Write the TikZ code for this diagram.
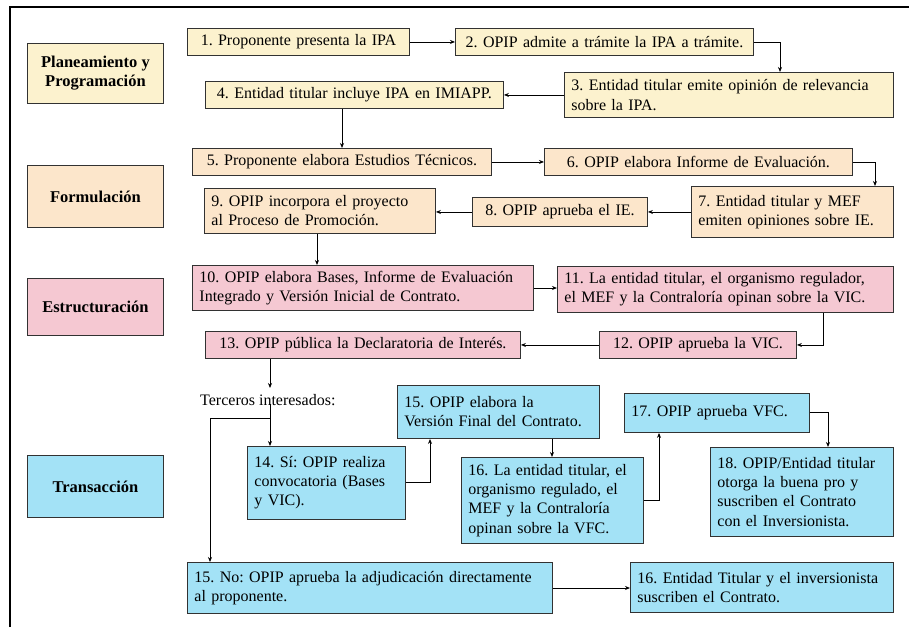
\documentclass[tikz,border=0pt]{standalone}
\usepackage{fontspec}
\setmainfont{Liberation Serif}
\usetikzlibrary{arrows.meta}
\frenchspacing
\definecolor{cyel}{RGB}{252,242,206}
\definecolor{cpea}{RGB}{252,230,203}
\definecolor{cpink}{RGB}{245,200,210}
\definecolor{cblue}{RGB}{163,226,246}
\definecolor{cedge}{RGB}{50,50,50}
\tikzset{
  bx/.style={draw=cedge, line width=0.9pt, anchor=north west, inner xsep=7pt, inner ysep=2pt,
    font=\fontsize{16}{19.2}\selectfont\frenchspacing, align=left},
  phase/.style={draw=cedge, line width=0.9pt, anchor=north west, align=center,
    font=\fontsize{16.5}{19}\selectfont\bfseries},
  conn/.style={draw=black, line width=0.8pt, -{Stealth[length=5pt,width=4pt]}},
  plain/.style={draw=black, line width=0.8pt},
}
\begin{document}
\begin{tikzpicture}[x=1pt,y=-1pt]
\useasboundingbox (0,0) rectangle (909,627);
\fill[white] (0,0) rectangle (909,627);
\draw[line width=2pt] (10,627) -- (10,7) -- (909,7);

% phase labels
\node[phase, fill=cyel, minimum width=136, minimum height=60] (pp) at (27,43) {Planeamiento y\\Programación};
\node[phase, fill=cpea, minimum width=136, minimum height=62] (pf) at (27,165) {Formulación};
\node[phase, fill=cpink, minimum width=136, minimum height=57] (pe) at (27,278) {Estructuración};
\node[phase, fill=cblue, minimum width=136, minimum height=62] (pt) at (27,455) {Transacción};

% step boxes
\node[bx, fill=cyel, minimum width=222, minimum height=27, text width=208, align=center] (n1) at (187,28) {1. Proponente presenta la IPA};
\node[bx, fill=cyel, minimum width=298, minimum height=27, text width=284, align=center] (n2) at (455,28) {2. OPIP admite a trámite la IPA a trámite.};
\node[bx, fill=cyel, minimum width=329, minimum height=45, text width=315] (n3) at (564,72) {3. Entidad titular emite opinión de relevancia\\sobre la IPA.};
\node[bx, fill=cyel, minimum width=298, minimum height=27, text width=284, align=center] (n4) at (205,81) {4. Entidad titular incluye IPA en IMIAPP.};

\node[bx, fill=cpea, minimum width=299, minimum height=27, text width=285, align=center] (n5) at (192,148) {5. Proponente elabora Estudios Técnicos.};
\node[bx, fill=cpea, minimum width=308, minimum height=27, text width=294, align=center] (n6) at (544,148) {6. OPIP elabora Informe de Evaluación.};
\node[bx, fill=cpea, minimum width=202, minimum height=51, text width=188] (n7) at (691,186) {7. Entidad titular y MEF\\emiten opiniones sobre IE.};
\node[bx, fill=cpea, minimum width=175, minimum height=29, text width=161, align=center] (n8) at (472,197) {8. OPIP aprueba el IE.};
\node[bx, fill=cpea, minimum width=231, minimum height=45, text width=217] (n9) at (204,188) {9. OPIP incorpora el proyecto\\al Proceso de Promoción.};

\node[bx, fill=cpink, minimum width=341, minimum height=45, text width=327] (n10) at (192,265) {10. OPIP elabora Bases, Informe de Evaluación\\Integrado y Versión Inicial de Contrato.};
\node[bx, fill=cpink, minimum width=336, minimum height=46, text width=322] (n11) at (557,266) {11. La entidad titular, el organismo regulador,\\el MEF y la Contraloría opinan sobre la VIC.};
\node[bx, fill=cpink, minimum width=197, minimum height=27, text width=183, align=center] (n12) at (599,331) {12. OPIP aprueba la VIC.};
\node[bx, fill=cpink, minimum width=315, minimum height=27, text width=301, align=center] (n13) at (205,331) {13. OPIP pública la Declaratoria de Interés.};

\node[font=\fontsize{16}{19}\selectfont, anchor=west, inner sep=0pt] (terc) at (200,400) {Terceros interesados:};

\node[bx, fill=cblue, minimum width=202, minimum height=53, text width=188] (n15a) at (397,385) {15. OPIP elabora la\\Versión Final del Contrato.};
\node[bx, fill=cblue, minimum width=158, minimum height=73, text width=144] (n14) at (247,446) {14. Sí: OPIP realiza\\convocatoria (Bases\\y VIC).};
\node[bx, fill=cblue, minimum width=182, minimum height=86, text width=168] (n16) at (461,457) {16. La entidad titular, el\\organismo regulado, el\\MEF y la Contraloría\\opinan sobre la VFC.};
\node[bx, fill=cblue, minimum width=185, minimum height=39, text width=171] (n17) at (624,393) {17. OPIP aprueba VFC.};
\node[bx, fill=cblue, minimum width=183, minimum height=89, text width=169] (n18) at (710,447) {18. OPIP/Entidad titular\\otorga la buena pro y\\suscriben el Contrato\\con el Inversionista.};
\node[bx, fill=cblue, minimum width=365, minimum height=51, text width=351] (n15b) at (187,562) {15. No: OPIP aprueba la adjudicación directamente\\al proponente.};
\node[bx, fill=cblue, minimum width=263, minimum height=50, text width=249] (n16b) at (630,562) {16. Entidad Titular y el inversionista\\suscriben el Contrato.};

% connectors
\draw[conn] (n1.east) -- (n2.west);
\draw[conn] (n2.east) -| (n3.north -| 780,0);
\draw[conn] (n3.west) -- (n4.east);
\draw[conn] (n4.south -| 342,0) -- (n5.north -| 342,0);
\draw[conn] (n5.east) -- (n6.west);
\draw[conn] (n6.east) -| (n7.north -| 875,0);
\draw[conn] (n7.west) -- (n8.east);
\draw[conn] (n8.west) -- (n9.east |- n8.west);
\draw[conn] (n9.south -| 317,0) -- (n10.north -| 317,0);
\draw[conn] (n10.east |- 0,288) -- (n11.west |- 0,288);
\draw[conn] (n11.south -| 823,0) |- (n12.east);
\draw[conn] (n12.west) -- (n13.east |- n12.west);
\draw[conn] (n13.south -| 270,0) -- (270,388);
\coordinate (split) at (270,418);
\draw[plain] (270,404) -- (split);
\draw[conn] (split) -- (n14.north -| split);
\draw[conn] (split) -| (n15b.north -| 210,0);
\draw[conn] (n14.east |- 0,482) -| (n15a.south -| 430,0);
\draw[conn] (n15a.south -| 552,0) -- (n16.north -| 552,0);
\draw[conn] (n16.east |- 0,500) -| (n17.south -| 659,0);
\draw[conn] (n17.east |- 0,412) -| (n18.north -| 828,0);
\draw[conn] (n15b.east |- 0,588) -- (n16b.west |- 0,588);
\end{tikzpicture}
\end{document}
